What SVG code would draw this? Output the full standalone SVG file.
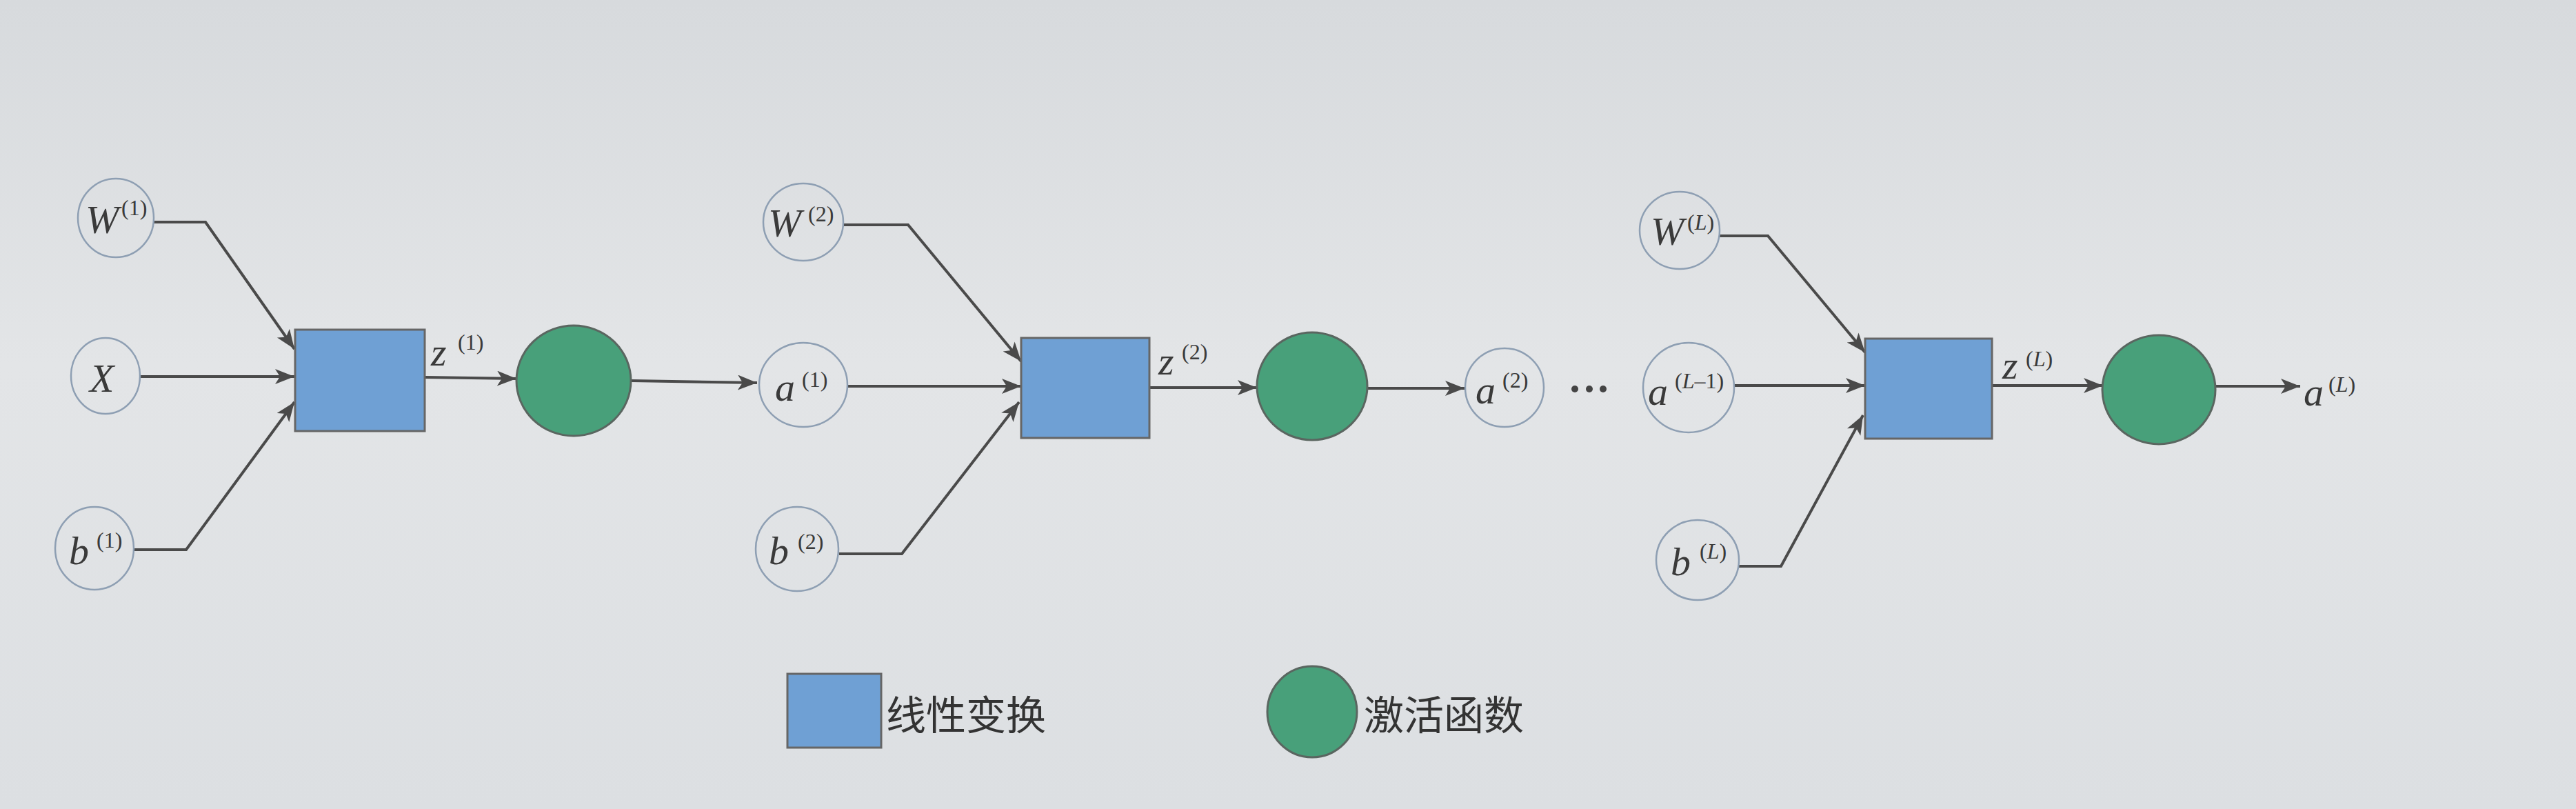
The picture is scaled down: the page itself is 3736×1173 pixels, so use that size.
<svg xmlns="http://www.w3.org/2000/svg" width="3736" height="1173" viewBox="0 0 3736 1173">
<defs>
<linearGradient id="bg" x1="0" y1="0" x2="0" y2="1">
<stop offset="0" stop-color="#d7dadd"/>
<stop offset="0.45" stop-color="#e3e5e7"/>
<stop offset="1" stop-color="#dcdfe2"/>
</linearGradient>
<marker id="arr" markerUnits="userSpaceOnUse" markerWidth="30" markerHeight="24" refX="28" refY="11" orient="auto">
<path d="M0,0 L28,11 L0,22 L7,11 Z" fill="#4a4a4a"/>
</marker>
<style>
.in{fill:none;stroke:#8e9fb3;stroke-width:2.5}
.lin{fill:#6fa0d4;stroke:#666;stroke-width:3}
.act{fill:#48a07a;stroke:#5a6660;stroke-width:3}
.v{font-family:"Liberation Serif",serif;font-style:italic;font-size:58px;fill:#3a3a3a}
.s{font-family:"Liberation Serif",serif;font-size:32px;fill:#3a3a3a}
.si{font-style:italic}
.c{fill:none;stroke:#4a4a4a;stroke-width:4;marker-end:url(#arr)}
.lg{font-family:"Noto Sans CJK SC",sans-serif;font-size:58px;fill:#333}
</style>
</defs>
<rect width="3736" height="1173" fill="url(#bg)"/>

<g id="connectors">
<polyline class="c" points="222,322 298,322 427,506"/>
<polyline class="c" points="203,546 427,546"/>
<polyline class="c" points="194,797 270,797 427,583"/>
<polyline class="c" points="617,547 749,549"/>
<polyline class="c" points="916,552 1098,555"/>
<polyline class="c" points="1224,326 1317,326 1481,524"/>
<polyline class="c" points="1229,560 1481,560"/>
<polyline class="c" points="1217,803 1308,803 1478,583"/>
<polyline class="c" points="1667,562 1823,562"/>
<polyline class="c" points="1983,563 2124,563"/>
<polyline class="c" points="2494,342 2564,342 2705,511"/>
<polyline class="c" points="2515,559 2705,559"/>
<polyline class="c" points="2522,821 2583,821 2702,602"/>
<polyline class="c" points="2889,559 3050,559"/>
<polyline class="c" points="3213,560 3336,560"/>
</g>

<g id="W1"><ellipse class="in" cx="168" cy="316" rx="55" ry="57"/><text class="v" x="124" y="338">W</text><text class="s" x="176" y="312">(1)</text></g>
<g id="X"><ellipse class="in" cx="153" cy="545" rx="50" ry="55"/><text class="v" x="130" y="568">X</text></g>
<g id="b1"><ellipse class="in" cx="137" cy="795" rx="57" ry="60"/><text class="v" x="100" y="818">b</text><text class="s" x="140" y="794">(1)</text></g>
<g id="lin1"><rect class="lin" x="428" y="478" width="188" height="147"/></g>
<g id="z1"><text class="v" x="625" y="530">z</text><text class="s" x="664" y="507">(1)</text></g>
<g id="act1"><ellipse class="act" cx="832" cy="552" rx="83" ry="80"/></g>

<g id="W2"><ellipse class="in" cx="1165" cy="322" rx="58" ry="56"/><text class="v" x="1114" y="343">W</text><text class="s" x="1172" y="321">(2)</text></g>
<g id="a1"><ellipse class="in" cx="1165" cy="558" rx="64" ry="61"/><text class="v" x="1124" y="581">a</text><text class="s" x="1163" y="561">(1)</text></g>
<g id="b2"><ellipse class="in" cx="1156" cy="796" rx="60" ry="61"/><text class="v" x="1115" y="818">b</text><text class="s" x="1157" y="796">(2)</text></g>
<g id="lin2"><rect class="lin" x="1481" y="490" width="186" height="145"/></g>
<g id="z2"><text class="v" x="1680" y="543">z</text><text class="s" x="1714" y="521">(2)</text></g>
<g id="act2"><ellipse class="act" cx="1903" cy="560" rx="80" ry="78"/></g>

<g id="a2"><ellipse class="in" cx="2182" cy="562" rx="57" ry="57"/><text class="v" x="2140" y="585">a</text><text class="s" x="2179" y="562">(2)</text></g>
<g id="dots" fill="#444"><circle cx="2284" cy="564" r="5"/><circle cx="2305" cy="564" r="5"/><circle cx="2325" cy="564" r="5"/></g>

<g id="WL"><ellipse class="in" cx="2436" cy="334" rx="58" ry="56"/><text class="v" x="2394" y="355">W</text><text class="s" x="2447" y="333">(<tspan class="si">L</tspan>)</text></g>
<g id="aL1"><ellipse class="in" cx="2449" cy="562" rx="66" ry="65"/><text class="v" x="2390" y="587">a</text><text class="s" x="2429" y="563">(<tspan class="si">L</tspan>–1)</text></g>
<g id="bL"><ellipse class="in" cx="2462" cy="812" rx="60" ry="58"/><text class="v" x="2423" y="834">b</text><text class="s" x="2465" y="810">(<tspan class="si">L</tspan>)</text></g>
<g id="linL"><rect class="lin" x="2705" y="491" width="184" height="145"/></g>
<g id="zL"><text class="v" x="2904" y="549">z</text><text class="s" x="2938" y="531">(<tspan class="si">L</tspan>)</text></g>
<g id="actL"><ellipse class="act" cx="3131" cy="565" rx="82" ry="79"/></g>
<g id="aL"><text class="v" x="3341" y="588">a</text><text class="s" x="3377" y="568">(<tspan class="si">L</tspan>)</text></g>

<g id="legend-linear"><rect class="lin" x="1142" y="977" width="136" height="107"/><text class="lg" x="1285" y="1058">线性变换</text></g>
<g id="legend-activation"><ellipse class="act" cx="1903" cy="1032" rx="65" ry="66"/><text class="lg" x="1978" y="1058">激活函数</text></g>
</svg>
